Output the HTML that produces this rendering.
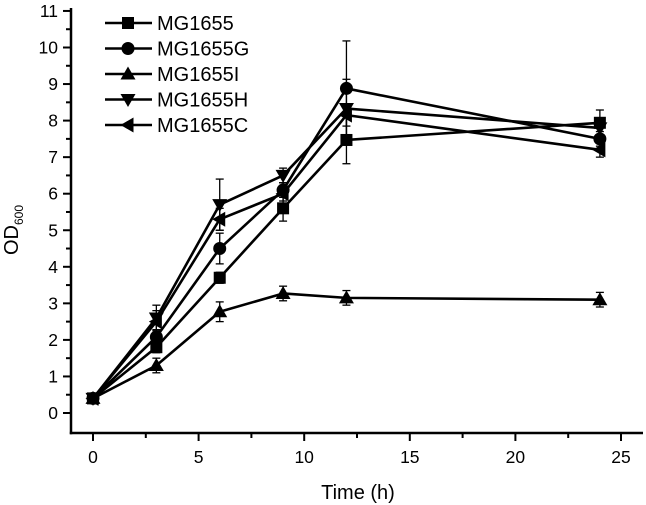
<!DOCTYPE html>
<html><head><meta charset="utf-8"><style>
html,body{margin:0;padding:0;background:#fff;}
svg{display:block;font-family:"Liberation Sans",Arial,sans-serif;}
</style></head><body>
<svg id="chart" width="646" height="505" viewBox="0 0 646 505"></svg>
<script>
const times = [0, 3, 6, 9, 12, 24];
const seriesNames = ["MG1655", "MG1655G", "MG1655I", "MG1655H", "MG1655C"];
const markers = ["square", "circle", "up", "down", "left"];
const sMG1655 = [0.4, 1.8, 3.7, 5.6, 7.47, 7.94];
const sMG1655G = [0.4, 2.08, 4.5, 6.1, 8.88, 7.5];
const sMG1655I = [0.4, 1.3, 2.77, 3.27, 3.15, 3.1];
const sMG1655H = [0.4, 2.6, 5.7, 6.5, 8.33, 7.8];
const sMG1655C = [0.4, 2.5, 5.3, 6.0, 8.15, 7.2];
const eMG1655 = [0.1, 0.15, 0.15, 0.35, 0.65, 0.35];
const eMG1655G = [0.1, 0.2, 0.42, 0.2, 1.3, 0.2];
const eMG1655I = [0.1, 0.2, 0.27, 0.2, 0.2, 0.2];
const eMG1655H = [0.1, 0.35, 0.7, 0.2, 0.8, 0.2];
const eMG1655C = [0.1, 0.3, 0.3, 0.2, 0.3, 0.2];
const xTicks = [0, 5, 10, 15, 20, 25];
const yTicks = [0,1,2,3,4,5,6,7,8,9,10,11];
const allSeries = [sMG1655, sMG1655G, sMG1655I, sMG1655H, sMG1655C];
const allErr = [eMG1655, eMG1655G, eMG1655I, eMG1655H, eMG1655C];

const NS = "http://www.w3.org/2000/svg";
const svg = document.getElementById("chart");
const x = v => 93 + v * 21.12;
const y = v => 413 - v * 36.55;
const axL = 71, axB = 433, axR = 643;
function mk(tag, attrs, parent) {
  const e = document.createElementNS(NS, tag);
  for (const k in attrs) e.setAttribute(k, attrs[k]);
  (parent || svg).appendChild(e);
  return e;
}
function marker(type, cx, cy, g) {
  const s = 6.5;
  let e;
  if (type === "square") e = mk("rect", {x: cx - s + 0.5, y: cy - s + 0.5, width: 2 * s - 1, height: 2 * s - 1, fill: "#000"}, g);
  else if (type === "circle") e = mk("circle", {cx: cx, cy: cy, r: s, fill: "#000"}, g);
  else if (type === "up") e = mk("polygon", {points: `${cx},${cy - s - 1} ${cx - s - 1},${cy + s - 1} ${cx + s + 1},${cy + s - 1}`, fill: "#000"}, g);
  else if (type === "down") e = mk("polygon", {points: `${cx},${cy + s + 1} ${cx - s - 1},${cy - s + 1} ${cx + s + 1},${cy - s + 1}`, fill: "#000"}, g);
  else e = mk("polygon", {points: `${cx - s - 1},${cy} ${cx + s - 1},${cy - s - 1} ${cx + s - 1},${cy + s + 1}`, fill: "#000"}, g);
  return e;
}
const axes = mk("g", {});


mk("line", {x1: axL, y1: 8, x2: axL, y2: axB + 1.2, stroke: "#000", "stroke-width": 2.5}, axes);
mk("line", {x1: axL - 1.2, y1: axB, x2: axR, y2: axB, stroke: "#000", "stroke-width": 2.5}, axes);
for (let v = 0; v <= 11; v += 0.5) {
  const major = Number.isInteger(v);
  mk("line", {x1: axL - (major ? 8 : 5), y1: y(v), x2: axL, y2: y(v), stroke: "#000", "stroke-width": 2}, axes);
}
yTicks.forEach(v => {
  const t = mk("text", {x: axL - 13, y: y(v) + 6, "text-anchor": "end", "font-size": 17.5}, axes);
  t.textContent = v;
  
  
});
for (let v = 0; v <= 25; v += 2.5) {
  const major = v % 5 === 0;
  mk("line", {x1: x(v), y1: axB, x2: x(v), y2: axB + (major ? 8 : 5), stroke: "#000", "stroke-width": 2}, axes);
}
xTicks.forEach(v => {
  const t = mk("text", {x: x(v), y: 463, "text-anchor": "middle", "font-size": 17.5}, axes);
  t.textContent = v;
  
  
});
const xt = mk("text", {x: 358, y: 499, "text-anchor": "middle", "font-size": 20});
xt.textContent = "Time (h)";


const yt = mk("text", {transform: "translate(18,230) rotate(-90)", "text-anchor": "middle", "font-size": 20});
yt.innerHTML = 'OD<tspan font-size="12" dy="5">600</tspan>';



allSeries.forEach((vals, i) => {
  const g = mk("g", {});
  
  
  const errs = allErr[i];
  vals.forEach((v, j) => {
    const cx = x(times[j]);
    mk("line", {x1: cx, y1: y(v - errs[j]), x2: cx, y2: y(v + errs[j]), stroke: "#000", "stroke-width": 1.3}, g);
    mk("line", {x1: cx - 4, y1: y(v + errs[j]), x2: cx + 4, y2: y(v + errs[j]), stroke: "#000", "stroke-width": 1.3}, g);
    mk("line", {x1: cx - 4, y1: y(v - errs[j]), x2: cx + 4, y2: y(v - errs[j]), stroke: "#000", "stroke-width": 1.3}, g);
  });
  mk("polyline", {points: vals.map((v, j) => x(times[j]) + "," + y(v)).join(" "), fill: "none", stroke: "#000", "stroke-width": 2.6, "stroke-linejoin": "round"}, g);
  vals.forEach((v, j) => {
    const m = marker(markers[i], x(times[j]), y(v), g);
    
    
  });
});

const lg = mk("g", {});


seriesNames.forEach((n, i) => {
  const ly = 23 + i * 25.5;
  const e = mk("g", {}, lg);
  
  
  mk("line", {x1: 105, y1: ly, x2: 152, y2: ly, stroke: "#000", "stroke-width": 2.6}, e);
  marker(markers[i], 128, ly, e);
  const t = mk("text", {x: 157, y: ly + 7, "font-size": 20}, e);
  t.textContent = n;
});
</script>
</body></html>
